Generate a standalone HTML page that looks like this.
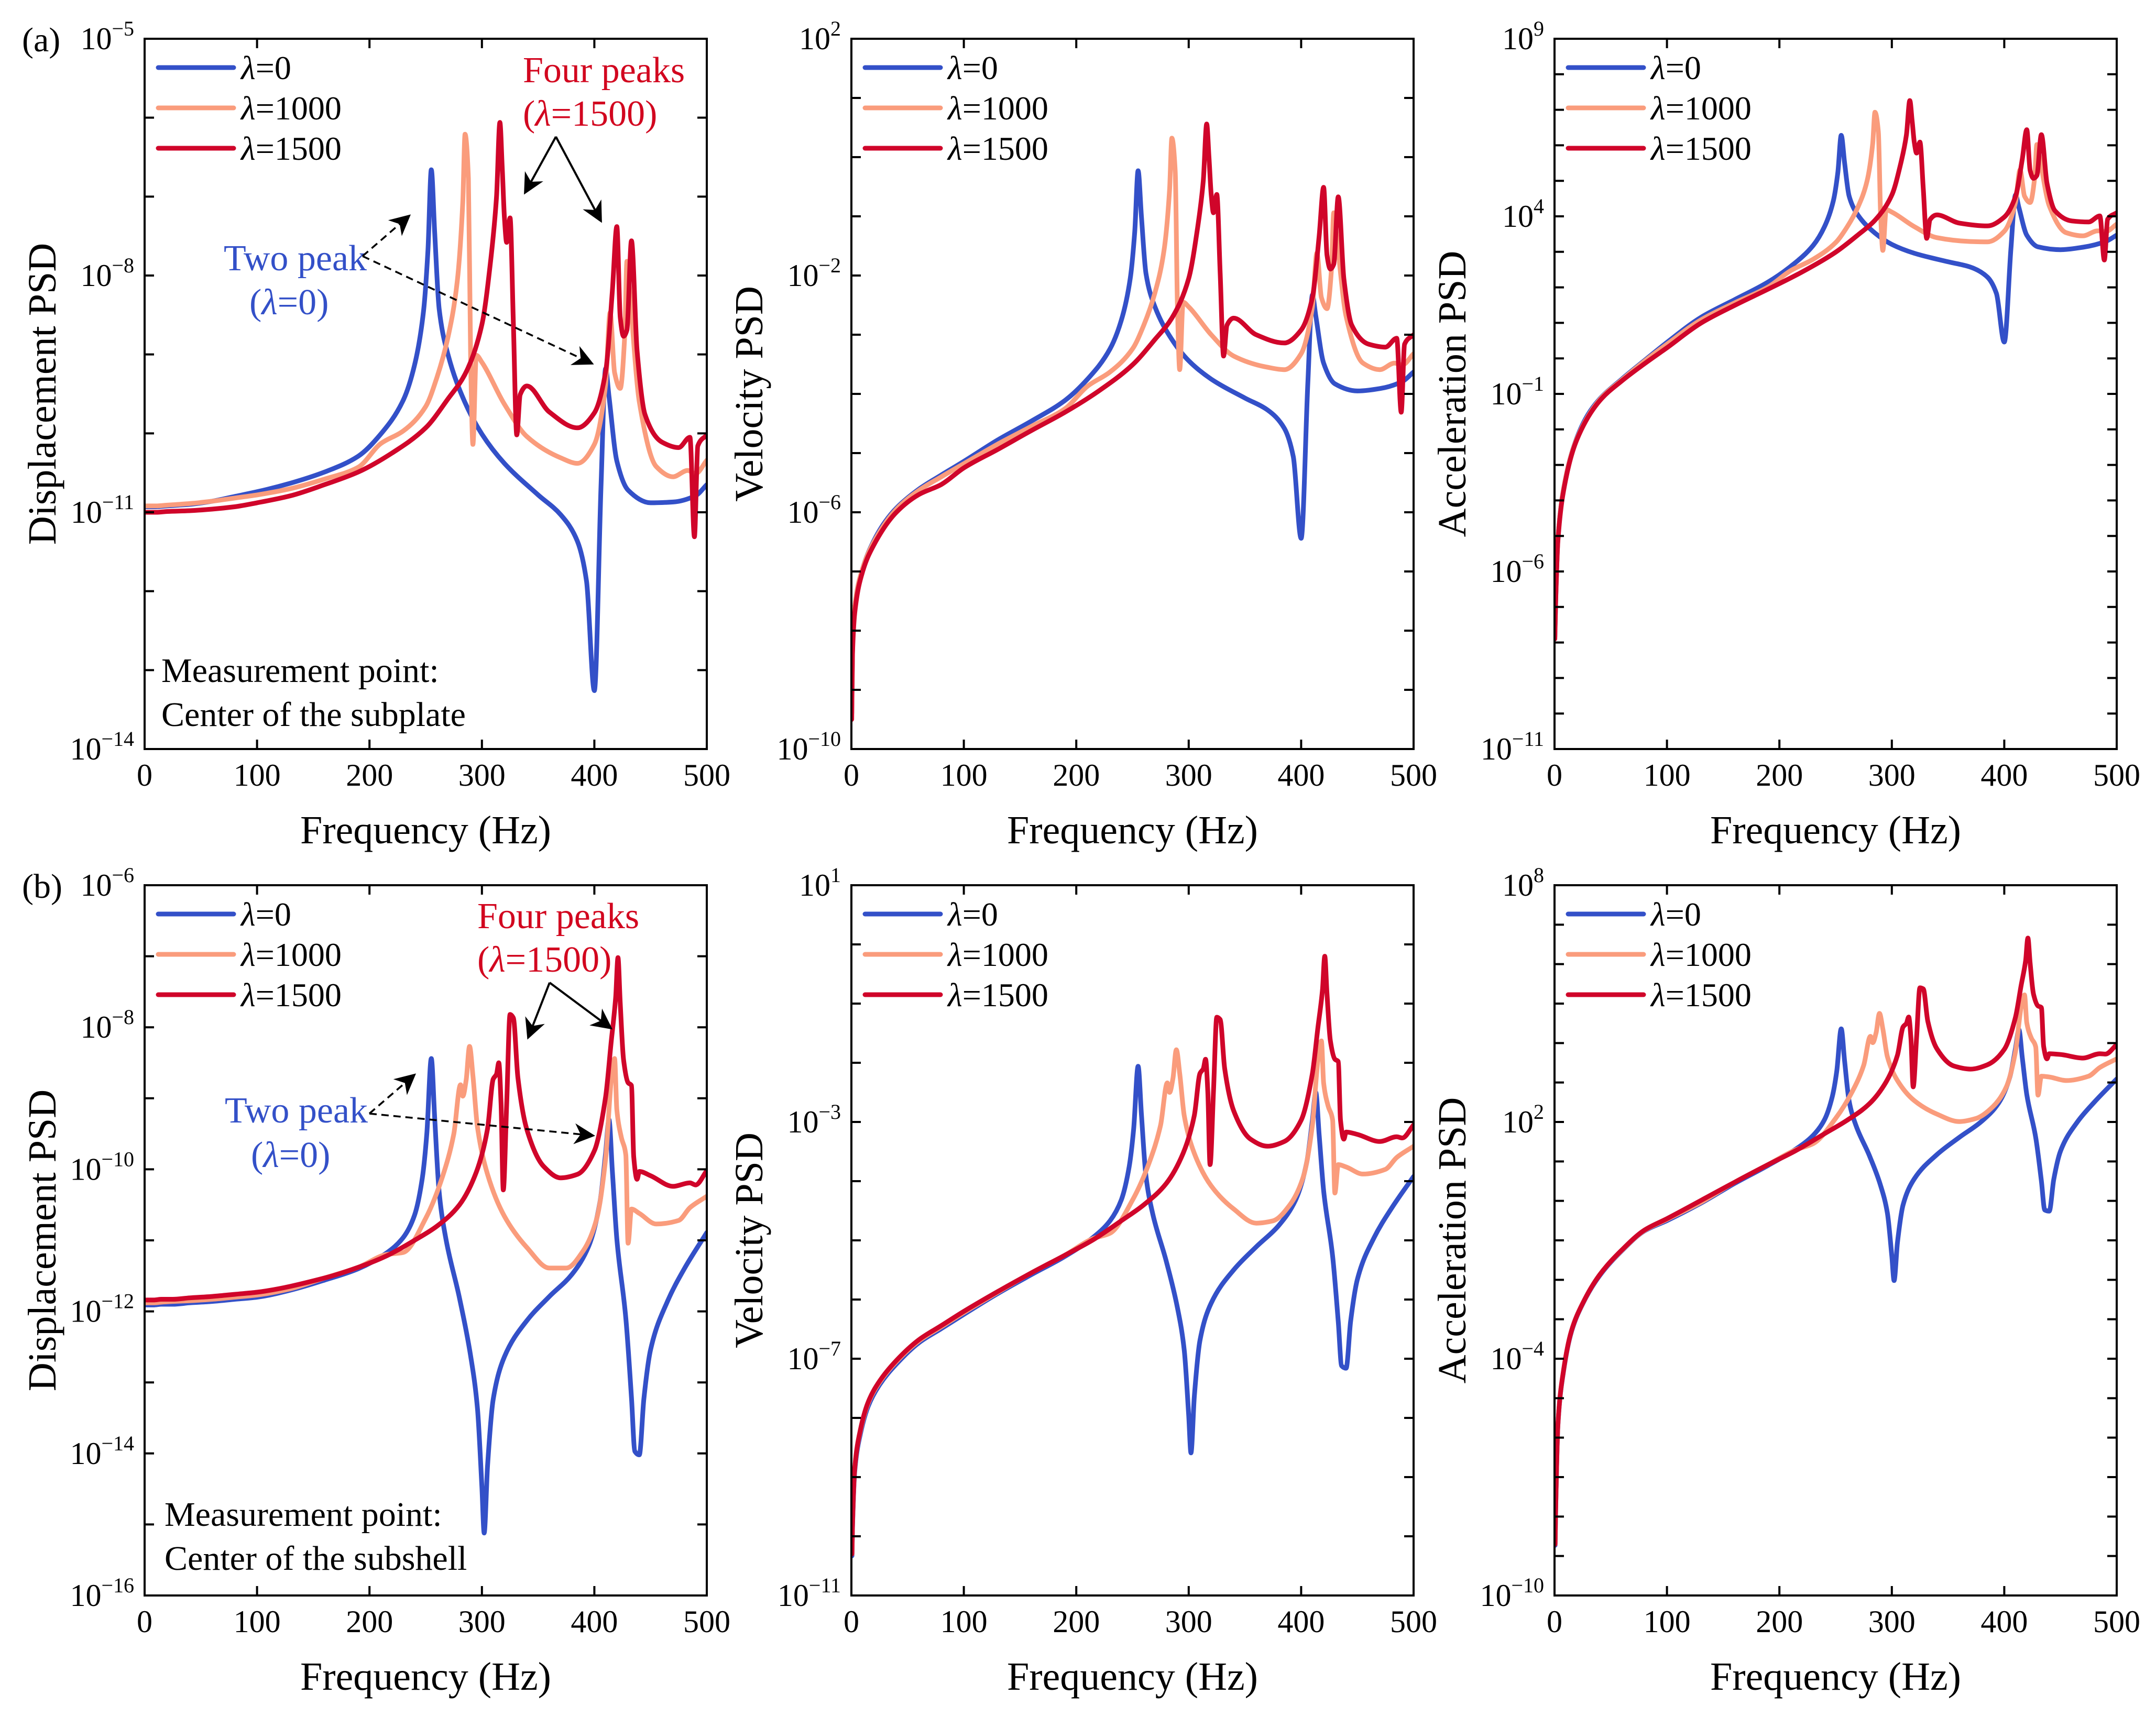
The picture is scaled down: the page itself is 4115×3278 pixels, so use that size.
<!DOCTYPE html>
<html><head><meta charset="utf-8"><title>PSD charts</title>
<style>
html,body{margin:0;padding:0;background:#fff;}
svg{display:block;font-family:"Liberation Serif","Times New Roman",serif;}
</style></head>
<body>
<svg id="fig" width="4115" height="3278" viewBox="0 0 4115 3278" xmlns="http://www.w3.org/2000/svg">
<defs>
<marker id="ahs" viewBox="0 0 10 10" refX="9" refY="5" markerWidth="40" markerHeight="40" markerUnits="userSpaceOnUse" orient="auto">
<path d="M0,0 L10,5 L0,10 L3,5 Z" fill="#000"/>
</marker>
</defs>
<g id="plots"></g>
<g id="annot" font-family="Liberation Serif, serif">
<text x="42" y="98" font-size="66">(a)</text>
<text x="42" y="1714" font-size="66">(b)</text>

<text x="998" y="157" font-size="70" fill="#D2061F">Four peaks</text>
<text x="998" y="240" font-size="70" fill="#D2061F">(<tspan font-style="italic">λ</tspan>=1500)</text>
<line x1="1061" y1="261" x2="1002" y2="368" stroke="#000" stroke-width="4" marker-end="url(#ahs)"/>
<line x1="1061" y1="261" x2="1147" y2="422" stroke="#000" stroke-width="4" marker-end="url(#ahs)"/>
<text x="427" y="516" font-size="70" fill="#3350C8">Two peak</text>
<text x="476" y="600" font-size="70" fill="#3350C8">(<tspan font-style="italic">λ</tspan>=0)</text>
<line x1="692" y1="489" x2="781" y2="412" stroke="#000" stroke-width="3.5" stroke-dasharray="14,9" marker-end="url(#ahs)"/>
<line x1="692" y1="489" x2="1130" y2="694" stroke="#000" stroke-width="3.5" stroke-dasharray="14,9" marker-end="url(#ahs)"/>
<text x="308" y="1302" font-size="66">Measurement point:</text>
<text x="308" y="1386" font-size="66">Center of the subplate</text>

<text x="911" y="1772" font-size="70" fill="#D2061F">Four peaks</text>
<text x="911" y="1855" font-size="70" fill="#D2061F">(<tspan font-style="italic">λ</tspan>=1500)</text>
<line x1="1049" y1="1876" x2="1008" y2="1981" stroke="#000" stroke-width="4" marker-end="url(#ahs)"/>
<line x1="1049" y1="1876" x2="1166" y2="1963" stroke="#000" stroke-width="4" marker-end="url(#ahs)"/>
<text x="429" y="2143" font-size="70" fill="#3350C8">Two peak</text>
<text x="479" y="2228" font-size="70" fill="#3350C8">(<tspan font-style="italic">λ</tspan>=0)</text>
<line x1="705" y1="2126" x2="791" y2="2052" stroke="#000" stroke-width="3.5" stroke-dasharray="14,9" marker-end="url(#ahs)"/>
<line x1="705" y1="2126" x2="1132" y2="2168" stroke="#000" stroke-width="3.5" stroke-dasharray="14,9" marker-end="url(#ahs)"/>
<text x="314" y="2913" font-size="66">Measurement point:</text>
<text x="314" y="2997" font-size="66">Center of the subshell</text>
</g>
</svg>
<script>
// ---------- Data (log10 of PSD) ----------
// Row (a): subplate
const FREQ_A_L0 = [0.3,1,3,10,20,30,40,60,80,100,130,160,190,210,230,240,248,252,255,258,262,270,285,300,320,350,370,385,393,400,406,410,413,420,430,450,470,490,500];
const DISP_A_L0 = [-10.93,-10.93,-10.93,-10.93,-10.92,-10.91,-10.9,-10.86,-10.8,-10.74,-10.63,-10.49,-10.29,-10.01,-9.58,-9.14,-8.46,-7.68,-6.66,-7.46,-8.43,-9.01,-9.61,-10.01,-10.38,-10.78,-11.03,-11.37,-11.87,-13.26,-10.63,-9.18,-9.53,-10.35,-10.72,-10.88,-10.87,-10.79,-10.65];
const VEL_A_L0 = [-9.4,-8.3,-7.6,-6.95,-6.48,-6.16,-5.93,-5.61,-5.37,-5.14,-4.78,-4.46,-4.11,-3.75,-3.24,-2.76,-2.05,-1.26,-0.23,-1.02,-1.97,-2.53,-3.08,-3.44,-3.75,-4.07,-4.27,-4.58,-5.06,-6.44,-3.79,-2.33,-2.68,-3.48,-3.83,-3.95,-3.91,-3.79,-3.63];
const ACC_A_L0 = [-7.84,-6.85,-5.1,-3.35,-2.23,-1.57,-1.15,-0.58,-0.06,0.45,1.15,1.65,2.15,2.59,3.18,3.70,4.44,5.24,6.28,5.50,4.57,4.03,3.53,3.21,2.96,2.72,2.57,2.29,1.83,0.46,3.13,4.60,4.25,3.47,3.14,3.06,3.13,3.29,3.47];

const FREQ_A_L1000 = [0.3,1,3,10,20,40,60,80,100,130,160,190,210,230,250,260,270,278,283,285,288,290,292,295,300,320,340,370,385,400,410,414,418,423,427,429,432,440,455,470,483,490,500];
const DISP_A_L1000 = [-10.92,-10.92,-10.92,-10.92,-10.91,-10.89,-10.86,-10.82,-10.78,-10.70,-10.58,-10.43,-10.13,-9.97,-9.66,-9.29,-8.77,-8.08,-7.07,-6.21,-6.77,-9.07,-10.14,-9.01,-9.10,-9.63,-10.04,-10.31,-10.38,-10.14,-9.38,-8.47,-9.23,-9.43,-8.77,-7.82,-8.31,-9.60,-10.42,-10.55,-10.47,-10.51,-10.34];
const VEL_A_L1000 = [-9.4,-8.3,-7.6,-6.95,-6.5,-5.95,-5.63,-5.4,-5.18,-4.85,-4.55,-4.25,-3.87,-3.63,-3.24,-2.84,-2.29,-1.58,-0.55,0.32,-0.23,-2.53,-3.59,-2.45,-2.53,-3.0,-3.36,-3.55,-3.59,-3.32,-2.53,-1.62,-2.37,-2.56,-1.89,-0.94,-1.42,-2.69,-3.48,-3.59,-3.48,-3.51,-3.32];
const ACC_A_L1000 = [-7.84,-6.85,-5.1,-3.35,-2.25,-1.17,-0.6,-0.08,0.4,1.08,1.56,2.01,2.47,2.79,3.26,3.69,4.27,5.00,6.05,6.93,6.39,4.09,3.04,4.19,4.12,3.71,3.40,3.29,3.28,3.58,4.40,5.31,4.57,4.39,5.07,6.02,5.55,4.30,3.54,3.45,3.59,3.57,3.78];

const FREQ_A_L1500 = [0.3,1,3,10,20,40,60,80,100,130,160,190,220,250,270,285,300,308,313,316,318,320,322,325,328,331,334,340,360,385,400,410,416,420,423,426,429,433,438,445,460,475,485,489,492,500];
const DISP_A_L1500 = [-11.0,-11.0,-11.0,-11.0,-10.99,-10.98,-10.96,-10.93,-10.88,-10.79,-10.65,-10.49,-10.25,-9.93,-9.56,-9.25,-8.62,-7.78,-7.00,-6.06,-6.61,-7.26,-7.58,-7.27,-8.62,-10.02,-9.51,-9.40,-9.73,-9.93,-9.74,-9.22,-8.20,-7.38,-8.53,-8.77,-8.69,-7.56,-8.95,-9.76,-10.11,-10.18,-10.05,-11.31,-10.16,-10.02];
const VEL_A_L1500 = [-9.5,-8.4,-7.7,-7.0,-6.55,-6.0,-5.7,-5.53,-5.25,-4.94,-4.62,-4.31,-3.95,-3.51,-3.08,-2.72,-2.05,-1.18,-0.39,0.56,0.01,-0.63,-0.94,-0.63,-1.97,-3.36,-2.84,-2.72,-3.0,-3.14,-2.92,-2.37,-1.34,-0.51,-1.66,-1.89,-1.81,-0.67,-2.05,-2.84,-3.16,-3.21,-3.06,-4.31,-3.16,-3.0];
const ACC_A_L1500 = [-7.9,-6.9,-5.15,-3.4,-2.28,-1.2,-0.63,-0.15,0.3,0.99,1.49,1.95,2.43,2.99,3.48,3.89,4.60,5.50,6.30,7.26,6.71,6.08,5.78,6.09,4.76,3.38,3.91,4.04,3.81,3.73,3.98,4.56,5.60,6.44,5.29,5.07,5.15,6.30,4.93,4.16,3.87,3.84,4.01,2.77,3.92,4.10];

// Row (b): subshell
const FREQ_B_L0 = [0.5,1,3,8,15,25,40,60,80,100,130,160,190,215,230,240,247,251,255,258,262,268,280,290,296,300,302,305,310,320,340,360,380,395,405,410,413,416,420,428,433,436,440,444,450,465,480,500];
const DISP_B_L0 = [-11.91,-11.91,-11.91,-11.91,-11.9,-11.9,-11.88,-11.86,-11.83,-11.8,-11.70,-11.56,-11.40,-11.18,-10.96,-10.65,-10.12,-9.50,-8.44,-9.28,-10.33,-10.98,-11.81,-12.63,-13.36,-14.48,-15.12,-14.18,-13.24,-12.64,-12.13,-11.79,-11.48,-11.08,-10.46,-9.77,-9.30,-10.02,-10.98,-12.10,-13.21,-13.97,-14.02,-13.24,-12.54,-11.86,-11.40,-10.89];
const VEL_B_L0 = [-10.33,-9.85,-8.9,-8.27,-7.8,-7.44,-7.09,-6.73,-6.49,-6.25,-5.9,-5.58,-5.27,-4.95,-4.67,-4.32,-3.76,-3.13,-2.06,-2.89,-3.92,-4.55,-5.35,-6.14,-6.85,-7.96,-8.59,-7.64,-6.69,-6.06,-5.5,-5.11,-4.75,-4.32,-3.68,-2.97,-2.5,-3.21,-4.16,-5.27,-6.37,-7.12,-7.16,-6.37,-5.66,-4.95,-4.47,-3.92];
const ACC_B_L0 = [-8.73,-7.87,-5.7,-4.32,-3.32,-2.61,-1.9,-1.26,-0.76,-0.5,-0.06,0.44,0.90,1.32,1.66,2.05,2.64,3.28,4.36,3.54,2.53,1.92,1.15,0.39,-0.30,-1.40,-2.02,-1.06,-0.10,0.56,1.17,1.61,2.02,2.48,3.14,3.87,4.34,3.64,2.70,1.60,0.51,-0.23,-0.26,0.54,1.26,2.00,2.50,3.09];

const FREQ_B_L1000 = [0.5,1,3,8,15,25,40,60,80,100,130,160,190,215,230,250,265,275,281,283,286,289,292,296,305,320,340,360,375,390,402,410,415,418,420,424,428,430,433,440,455,475,485,500];
const DISP_B_L1000 = [-11.88,-11.88,-11.88,-11.88,-11.87,-11.86,-11.85,-11.83,-11.8,-11.77,-11.68,-11.53,-11.38,-11.20,-11.17,-10.69,-10.10,-9.50,-8.81,-8.97,-8.74,-8.27,-8.68,-9.40,-10.07,-10.66,-11.10,-11.39,-11.39,-11.15,-10.70,-9.85,-8.75,-8.44,-9.16,-9.55,-9.80,-11.04,-10.56,-10.62,-10.77,-10.72,-10.54,-10.38];
const VEL_B_L1000 = [-10.3,-9.8,-8.85,-8.22,-7.75,-7.4,-7.05,-6.7,-6.46,-6.22,-5.88,-5.55,-5.25,-4.97,-4.88,-4.32,-3.68,-3.05,-2.34,-2.5,-2.26,-1.78,-2.18,-2.89,-3.53,-4.08,-4.47,-4.71,-4.67,-4.4,-3.92,-3.05,-1.94,-1.63,-2.34,-2.73,-2.97,-4.2,-3.72,-3.76,-3.88,-3.8,-3.6,-3.41];
const ACC_B_L1000 = [-8.7,-7.85,-5.68,-4.3,-3.3,-2.6,-1.88,-1.25,-0.75,-0.47,-0.04,0.47,0.92,1.30,1.45,2.09,2.78,3.44,4.17,4.01,4.26,4.75,4.36,3.66,3.05,2.54,2.20,2.01,2.09,2.39,2.90,3.79,4.91,5.22,4.52,4.13,3.90,2.68,3.16,3.14,3.05,3.16,3.38,3.60];

const FREQ_B_L1500 = [0.5,1,3,8,15,25,40,60,80,100,160,190,215,240,260,280,295,305,310,313,315,317,319,322,325,328,332,340,355,370,385,400,410,415,419,421,423,426,430,433,435,438,440,450,470,485,490,500];
const DISP_B_L1500 = [-11.84,-11.84,-11.84,-11.84,-11.83,-11.83,-11.81,-11.79,-11.76,-11.73,-11.53,-11.38,-11.22,-11.00,-10.80,-10.50,-10.04,-9.43,-8.73,-8.66,-8.50,-9.07,-10.29,-9.09,-7.82,-7.87,-8.71,-9.44,-9.96,-10.12,-10.07,-9.74,-8.98,-8.20,-7.57,-7.02,-7.66,-8.46,-8.78,-8.82,-9.82,-10.14,-10.03,-10.09,-10.24,-10.19,-10.22,-10.02];
const VEL_B_L1500 = [-10.3,-9.8,-8.85,-8.2,-7.73,-7.38,-7.03,-6.68,-6.44,-6.2,-5.55,-5.25,-4.99,-4.67,-4.4,-4.04,-3.53,-2.89,-2.18,-2.1,-1.94,-2.5,-3.72,-2.5,-1.23,-1.27,-2.1,-2.81,-3.29,-3.41,-3.33,-2.97,-2.18,-1.39,-0.76,-0.2,-0.84,-1.63,-1.94,-1.98,-2.97,-3.29,-3.17,-3.21,-3.33,-3.25,-3.27,-3.05];
const ACC_B_L1500 = [-8.7,-7.85,-5.68,-4.3,-3.3,-2.6,-1.88,-1.24,-0.74,-0.45,0.47,0.92,1.28,1.70,2.04,2.46,3.02,3.69,4.41,4.50,4.66,4.11,2.89,4.13,5.40,5.37,4.55,3.86,3.42,3.34,3.45,3.84,4.66,5.46,6.09,6.66,6.02,5.24,4.94,4.90,3.92,3.60,3.73,3.71,3.62,3.73,3.72,3.96];

// Axis tick label exponents
const XTICKS = [0,100,200,300,400,500];
const YLAB_A1 = [-14,-11,-8,-5];
const YLAB_A2 = [-10,-6,-2,2];
const YLAB_A3 = [-11,-6,-1,4,9];
const YLAB_B1 = [-16,-14,-12,-10,-8,-6];
const YLAB_B2 = [-11,-7,-3,1];
const YLAB_B3 = [-10,-4,2,8];
const LEGEND_LABELS = ['0','1000','1500'];

// ---------- Rendering ----------
const NS = 'http://www.w3.org/2000/svg';
const COLORS = ['#3350C8','#FA9C7C','#D0052A'];
const root = document.getElementById('plots');
function mk(tag, attrs, parent){
  const e = document.createElementNS(NS, tag);
  for (const k in attrs) e.setAttribute(k, attrs[k]);
  (parent||root).appendChild(e);
  return e;
}
const COLX = [276, 1625, 2967];
const ROWY = [74, 1690];
const W = 1073, H = 1356;

// monotone cubic (Fritsch-Carlson) path through screen points
function monoPath(px, py){
  const n = px.length;
  if (n < 2) return '';
  const dx = [], m = [], t = new Array(n);
  for (let i = 0; i < n - 1; i++){ dx[i] = px[i+1] - px[i]; m[i] = dx[i] === 0 ? 0 : (py[i+1] - py[i]) / dx[i]; }
  t[0] = m[0]; t[n-1] = m[n-2];
  for (let i = 1; i < n - 1; i++){
    if (m[i-1] * m[i] <= 0) t[i] = 0;
    else {
      const w1 = 2*dx[i] + dx[i-1], w2 = dx[i] + 2*dx[i-1];
      t[i] = (w1 + w2) / (w1 / m[i-1] + w2 / m[i]);
    }
  }
  let d = 'M' + px[0].toFixed(1) + ',' + py[0].toFixed(1);
  for (let i = 0; i < n - 1; i++){
    const h = dx[i] / 3;
    d += 'C' + (px[i] + h).toFixed(1) + ',' + (py[i] + t[i]*h).toFixed(1) + ' ' +
         (px[i+1] - h).toFixed(1) + ',' + (py[i+1] - t[i+1]*h).toFixed(1) + ' ' +
         px[i+1].toFixed(1) + ',' + py[i+1].toFixed(1);
  }
  return d;
}

function drawPanel(id, col, row, ymin, ymax, ylabels, ytitle, freqs, series){
  const x0 = COLX[col], y0 = ROWY[row];
  const g = mk('g', {});
  
  
  const xs = f => x0 + f / 500 * W;
  const ys = v => y0 + (ymax - v) / (ymax - ymin) * H;
  const clip = mk('clipPath', {id: 'clip-' + id}, g);
  mk('rect', {x: x0, y: y0, width: W, height: H}, clip);
  const lg = mk('g', {'clip-path': 'url(#clip-' + id + ')'}, g);
  for (let s = 0; s < series.length; s++){
    const F = freqs[s], V = series[s];
    const px = F.map(xs), py = V.map(ys);
    const p = mk('path', {d: monoPath(px, py), fill: 'none', stroke: COLORS[s], 'stroke-width': 9, 'stroke-linejoin': 'round', 'stroke-linecap': 'round'}, lg);
    
    
  }
  const fr = mk('rect', {x: x0, y: y0, width: W, height: H, fill: 'none', stroke: '#000', 'stroke-width': 4}, g);
  
  
  for (let v = ymin; v <= ymax; v++){
    const y = ys(v);
    mk('line', {x1: x0, y1: y, x2: x0 + 18, y2: y, stroke: '#000', 'stroke-width': 4}, g);
    mk('line', {x1: x0 + W, y1: y, x2: x0 + W - 18, y2: y, stroke: '#000', 'stroke-width': 4}, g);
  }
  for (const v of ylabels){
    const t = mk('text', {x: x0 - 20, y: ys(v) + 20, 'text-anchor': 'end', 'font-size': 60}, g);
    
    
    const a = document.createElementNS(NS, 'tspan'); a.textContent = '10'; t.appendChild(a);
    const b = document.createElementNS(NS, 'tspan');
    b.setAttribute('dy', '-26'); b.setAttribute('font-size', '40');
    b.textContent = (v < 0 ? '\u2212' + (-v) : String(v)); t.appendChild(b);
  }
  for (const f of XTICKS){
    const x = xs(f);
    mk('line', {x1: x, y1: y0 + H, x2: x, y2: y0 + H - 18, stroke: '#000', 'stroke-width': 4}, g);
    mk('line', {x1: x, y1: y0, x2: x, y2: y0 + 18, stroke: '#000', 'stroke-width': 4}, g);
    const t = mk('text', {x: x, y: y0 + H + 70, 'text-anchor': 'middle', 'font-size': 60}, g);
    
    
    t.textContent = String(f);
  }
  const xt = mk('text', {x: x0 + W / 2, y: y0 + H + 180, 'text-anchor': 'middle', 'font-size': 76}, g);
  
  
  xt.textContent = 'Frequency (Hz)';
  const cy = y0 + H / 2, cx = x0 - 170;
  const yt = mk('text', {x: cx, y: cy, 'text-anchor': 'middle', 'font-size': 76, transform: 'rotate(-90 ' + cx + ' ' + cy + ')'}, g);
  
  
  yt.textContent = ytitle;
  for (let s = 0; s < 3; s++){
    const ly = y0 + 55 + s * 77;
    const ll = mk('line', {x1: x0 + 26, y1: ly, x2: x0 + 170, y2: ly, stroke: COLORS[s], 'stroke-width': 9, 'stroke-linecap': 'round'}, g);
    
    
    const t = mk('text', {x: x0 + 184, y: ly + 22, 'font-size': 64}, g);
    
    
    const a = document.createElementNS(NS, 'tspan'); a.setAttribute('font-style', 'italic'); a.textContent = 'λ'; t.appendChild(a);
    const b = document.createElementNS(NS, 'tspan'); b.textContent = '=' + LEGEND_LABELS[s]; t.appendChild(b);
  }
}

drawPanel('a-displacement', 0, 0, -14, -5, YLAB_A1, 'Displacement PSD',
  [FREQ_A_L0, FREQ_A_L1000, FREQ_A_L1500], [DISP_A_L0, DISP_A_L1000, DISP_A_L1500]);
drawPanel('a-velocity', 1, 0, -10, 2, YLAB_A2, 'Velocity PSD',
  [FREQ_A_L0, FREQ_A_L1000, FREQ_A_L1500], [VEL_A_L0, VEL_A_L1000, VEL_A_L1500]);
drawPanel('a-acceleration', 2, 0, -11, 9, YLAB_A3, 'Acceleration PSD',
  [FREQ_A_L0, FREQ_A_L1000, FREQ_A_L1500], [ACC_A_L0, ACC_A_L1000, ACC_A_L1500]);
drawPanel('b-displacement', 0, 1, -16, -6, YLAB_B1, 'Displacement PSD',
  [FREQ_B_L0, FREQ_B_L1000, FREQ_B_L1500], [DISP_B_L0, DISP_B_L1000, DISP_B_L1500]);
drawPanel('b-velocity', 1, 1, -11, 1, YLAB_B2, 'Velocity PSD',
  [FREQ_B_L0, FREQ_B_L1000, FREQ_B_L1500], [VEL_B_L0, VEL_B_L1000, VEL_B_L1500]);
drawPanel('b-acceleration', 2, 1, -10, 8, YLAB_B3, 'Acceleration PSD',
  [FREQ_B_L0, FREQ_B_L1000, FREQ_B_L1500], [ACC_B_L0, ACC_B_L1000, ACC_B_L1500]);
</script>
</body></html>
